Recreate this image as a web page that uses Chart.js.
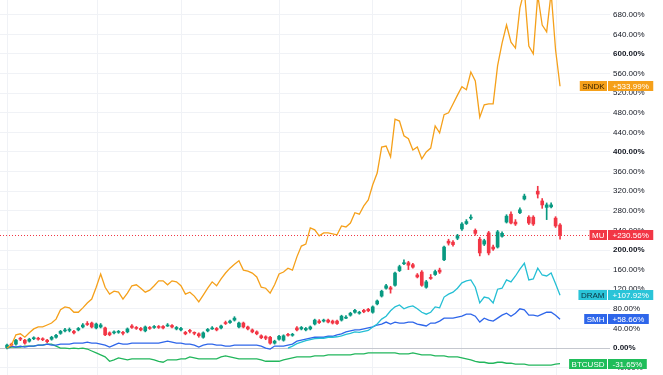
<!DOCTYPE html>
<html>
<head>
<meta charset="utf-8">
<script src="https://cdn.jsdelivr.net/npm/chart.js@4.4.0/dist/chart.umd.min.js"></script>
<style>
  html, body { margin: 0; padding: 0; background: #fff; }
  #wrap { width: 663px; height: 375px; position: relative; }
</style>
</head>
<body>
<div id="wrap"><canvas id="c"></canvas></div>
<script>
// percent change vs start, one value per bar
const sndk = [0,6,27,29,22,31,39,43,43,47,51,59,78,84,82,73,73,82,92,100,
  124,151,124,110,116,114,100,112,127,129,122,114,118,127,137,137,129,137,135,127,
  110,114,106,94,108,122,135,127,141,153,163,171,178,159,157,153,145,124,122,112,
  129,151,155,163,159,186,208,212,245,241,229,235,235,233,231,249,247,255,276,273,
  290,302,333,357,410,412,390,467,463,433,427,404,410,386,400,408,453,439,476,480,
  498,516,533,527,563,545,471,496,498,498,576,622,659,624,612,694,730,616,600,720,
  659,645,725,608,533.99]

const dram = [null,null,null,null,null,null,null,null,null,null,null,null,null,null,null,null,null,null,null,null,
  null,null,null,null,null,null,null,null,null,null,null,null,null,null,null,null,null,null,null,null,
  null,null,null,null,null,null,null,null,null,null,null,null,null,null,null,null,null,null,null,null,
  null,null,null,0,4,9,12,15,17,19,20,20,22,22,23,25,28,30,33,32,
  34,36,43,49,59,65,76,84,88,80,84,86,80,73,69,73,84,82,104,110,
  114,122,133,137,139,124,92,104,102,92,120,122,139,135,147,161,173,139,141,163,
  149,147,153,131,107.92]

const smh = [0,4,2,4,2,4,4,6,6,8,6,6,8,8,8,10,10,10,12,10,
  10,8,6,2,6,10,8,8,10,10,10,10,10,10,10,12,14,12,10,10,
  8,8,6,2,6,8,8,6,6,4,4,6,6,6,6,6,6,4,0,-2,
  4,4,4,6,8,14,16,18,20,22,22,22,24,24,27,29,33,35,37,37,
  39,41,43,47,49,53,49,53,51,51,53,53,49,47,45,51,51,55,61,61,
  61,63,65,69,69,65,53,61,57,55,61,67,71,65,71,80,78,67,67,65,
  69,73,73,67,58.66]

const btc = [0,2,2,2,4,4,4,6,6,8,8,4,0,0,-1,0,-1,0,-2,-6,
  -10,-14,-18,-27,-24,-20,-22,-24,-22,-22,-22,-22,-22,-24,-27,-29,-24,-24,-24,-22,
  -22,-18,-20,-22,-22,-22,-22,-22,-18,-16,-18,-20,-22,-22,-22,-22,-22,-24,-27,-27,
  -27,-27,-24,-22,-20,-18,-18,-18,-18,-16,-16,-16,-14,-14,-14,-14,-14,-14,-12,-12,
  -12,-10,-10,-10,-10,-10,-10,-10,-12,-12,-12,-10,-12,-14,-14,-14,-16,-16,-16,-18,
  -18,-18,-20,-22,-24,-27,-29,-29,-31,-31,-29,-29,-31,-31,-33,-33,-33,-35,-35,-35,
  -35,-35,-35,-33,-31.65]

// MU candles (percent)
const muOpen = [0,8,8,19,16,14,19,20,19,16,18,22,30,35,36,34,37,43,50,51,
  41,43,41,31,31,32,31,33,45,41,40,35,41,42,44,44,47,46,39,37,
  32,35,31,29,22,35,41,40,41,52,52,57,43,51,43,37,33,25,23,22,
  10,18,16,27,26,41,39,37,39,49,55,55,57,55,55,57,63,67,73,71,
  77,79,73,90,106,122,123,128,158,172,174,170,149,155,124,144,150,159,180,218,
  216,224,243,254,265,240,222,212,235,206,206,228,257,273,257,276,304,267,267,320,
  300,287,288,265,251]
const muClose = [6,6,16,18,10,18,21,18,17,13,22,26,34,37,38,31,40,47,48,43,
  49,47,27,27,33,34,30,39,42,40,37,43,40,44,42,41,47,43,42,40,
  29,34,30,25,31,38,41,37,45,50,55,61,51,43,39,33,29,21,20,10,
  14,24,25,26,27,37,42,40,43,57,52,56,53,51,50,65,63,71,77,72,
  74,76,84,96,116,127,120,153,166,174,169,165,145,128,135,142,156,155,206,214,
  211,229,253,258,266,234,194,219,194,202,237,234,269,255,253,282,310,255,253,314,
  292,292,292,249,230.56]
const muHigh = [8,10,18,22,18,20,23,22,21,18,24,28,36,40,41,36,42,50,54,53,
  51,50,43,33,35,36,34,41,48,44,42,45,44,46,46,46,50,48,44,42,
  34,38,33,31,33,40,44,42,47,55,57,64,53,53,45,39,35,27,25,24,
  16,26,27,30,30,44,44,42,45,59,58,59,59,57,57,67,66,73,79,75,
  79,81,86,98,118,130,126,155,169,180,177,173,152,158,138,150,159,163,208,222,
  219,232,256,262,272,243,226,222,238,210,240,237,272,278,262,286,314,270,270,330,
  305,296,296,268,254]
const muLow = [-2,4,6,15,8,12,17,16,15,11,16,20,28,33,33,29,35,41,46,41,
  39,41,25,25,29,30,27,31,40,38,35,33,38,40,40,39,44,41,37,35,
  27,31,27,22,20,33,38,35,39,48,50,55,41,41,37,31,27,19,17,8,
  8,16,14,24,24,35,37,35,37,47,50,53,51,49,48,55,60,65,71,69,
  72,74,71,88,104,120,112,126,156,170,160,163,143,126,122,140,148,152,178,210,
  208,221,240,252,262,230,188,209,190,199,204,226,255,253,250,274,302,252,250,306,
  285,262,286,246,222]

const yTicks = [-40,0,40,80,120,160,200,240,280,320,360,400,440,480,520,560,600,640,680]
const gridX = [0,20.4,39.2,61.2,82,102,123.3]

const COL = { sndk: '#f5a01a', mu: '#f23645', up: '#089981', dram: '#25bfd4', smh: '#2e66ea', btc: '#22b65c' }

const labels = [
  { name: 'SNDK', value: '+533.99%', y: 533.99, bg: COL.sndk, nameColor: '#3b2400', valColor: '#ffffff' },
  { name: 'MU', value: '+230.56%', y: 230.56, bg: COL.mu, nameColor: '#ffffff', valColor: '#ffffff' },
  { name: 'DRAM', value: '+107.92%', y: 107.92, bg: '#2ac4d8', nameColor: '#0b3440', valColor: '#ffffff' },
  { name: 'SMH', value: '+58.66%', y: 58.66, bg: COL.smh, nameColor: '#ffffff', valColor: '#ffffff' },
  { name: 'BTCUSD', value: '-31.65%', y: -31.65, bg: '#1fbd5a', nameColor: '#ffffff', valColor: '#ffffff' }
]

const toXY = arr => arr.map((v, i) => ({ x: i, y: v }))
const upDown = muOpen.map((o, i) => muClose[i] >= o ? COL.up : COL.mu)

const lineDs = (data, color) => ({
  type: 'line',
  data: toXY(data),
  borderColor: color,
  borderWidth: 1.3,
  pointRadius: 0,
  tension: 0,
  spanGaps: false
})

const noPad = s => { s.paddingTop = 0; s.paddingBottom = 0; s.paddingLeft = 0; s.paddingRight = 0 }

const sideLabels = {
  id: 'sideLabels',
  beforeDatasetsDraw(chart) {
    const { ctx, chartArea, scales } = chart
    const y = Math.round(scales.y.getPixelForValue(muClose[muClose.length - 1])) + 0.5
    ctx.save()
    ctx.strokeStyle = COL.mu
    ctx.lineWidth = 1
    ctx.setLineDash([1, 2])
    ctx.beginPath()
    ctx.moveTo(chartArea.left, y)
    ctx.lineTo(chartArea.right, y)
    ctx.stroke()
    ctx.restore()
  },
  afterDraw(chart) {
    const { ctx, scales } = chart
    const split = 608
    ctx.save()
    ctx.font = '8px "Liberation Sans", Arial, sans-serif'
    ctx.textBaseline = 'middle'
    labels.forEach(l => {
      const cy = scales.y.getPixelForValue(l.y)
      const h = 10
      const top = Math.round(cy - h / 2)
      const vw = ctx.measureText(l.value).width + 9
      const nw = ctx.measureText(l.name).width + 5
      ctx.fillStyle = l.bg
      ctx.fillRect(split, top, vw, h)
      ctx.fillRect(split - 1 - nw, top, nw, h)
      ctx.textAlign = 'left'
      ctx.fillStyle = l.valColor
      ctx.fillText(l.value, split + 4.5, top + h / 2 + 0.5)
      ctx.fillStyle = l.nameColor
      ctx.fillText(l.name, split - 1 - nw + 2.5, top + h / 2 + 0.5)
    })
    ctx.restore()
  }
}

new Chart(document.getElementById('c'), {
  data: {
    datasets: [
      lineDs(sndk, COL.sndk),
      {
        type: 'bar',
        data: muOpen.map((o, i) => ({ x: i, y: [o, muClose[i]] })),
        backgroundColor: upDown,
        barThickness: 3,
        minBarLength: 1,
        grouped: false,
        borderWidth: 0
      },
      {
        type: 'bar',
        data: muLow.map((lo, i) => ({ x: i, y: [lo, muHigh[i]] })),
        backgroundColor: upDown,
        barThickness: 1,
        grouped: false,
        borderWidth: 0
      },
      lineDs(dram, COL.dram),
      lineDs(smh, COL.smh),
      lineDs(btc, COL.btc)
    ]
  },
  options: {
    responsive: true,
    maintainAspectRatio: false,
    animation: false,
    layout: { padding: 0 },
    plugins: {
      legend: { display: false },
      tooltip: { enabled: false }
    },
    scales: {
      x: {
        type: 'linear',
        min: -1.57,
        max: 135.2,
        offset: false,
        border: { display: false },
        ticks: { display: false },
        grid: { color: '#f0f2f6', drawTicks: false, offset: false },
        afterBuildTicks: s => { s.ticks = gridX.map(v => ({ value: v })) },
        afterFit: s => { s.height = 0; noPad(s) }
      },
      y: {
        type: 'linear',
        position: 'right',
        min: -55,
        max: 710,
        border: { display: false },
        grid: {
          drawTicks: false,
          color: ctx => ctx.tick && ctx.tick.value === 0 ? '#c5c8cf' : '#f0f2f6'
        },
        ticks: {
          padding: 3,
          color: '#131722',
          font: ctx => ({
            family: '"Liberation Sans", Arial, sans-serif',
            size: 8,
            weight: ctx.tick && ctx.tick.value % 200 === 0 ? 'bold' : 'normal'
          }),
          callback: v => v.toFixed(2) + '%'
        },
        afterBuildTicks: s => { s.ticks = yTicks.map(v => ({ value: v })) },
        afterFit: s => { s.width = 53; noPad(s) }
      }
    }
  },
  plugins: [sideLabels]
})
</script>
</body>
</html>
